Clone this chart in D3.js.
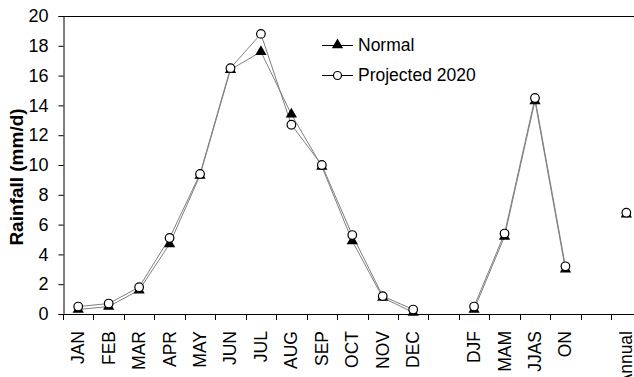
<!DOCTYPE html>
<html><head><meta charset="utf-8">
<script src="https://cdn.jsdelivr.net/npm/d3@7"></script>
<style>body{margin:0;background:#fff;overflow:hidden}svg{display:block}text{font-family:"Liberation Sans",Arial,sans-serif}</style>
</head><body>
<svg id="c" width="634" height="377"></svg>
<script>
const categories = ["JAN","FEB","MAR","APR","MAY","JUN","JUL","AUG","SEP","OCT","NOV","DEC","","DJF","MAM","JJAS","ON"," ","Annual"];
const normal =    [0.3,0.5,1.6,4.7,9.3,16.4,17.6,13.4,9.9,4.9,1.1,0.1,null,0.3,5.2,14.3,3.0,null,6.7];
const projected = [0.5,0.7,1.8,5.1,9.4,16.5,18.8,12.7,10.0,5.3,1.2,0.3,null,0.5,5.4,14.5,3.2,null,6.8];
const yTicks = [0,2,4,6,8,10,12,14,16,18,20];
const seriesNames = ["Normal","Projected 2020"];

const svg = d3.select("#c");
const mLeft = 63, mTop = 16, mBottom = 314, step = 30.45;
const x = d3.scaleBand().domain(categories).range([mLeft, mLeft + step*categories.length]).padding(0);
const y = d3.scaleLinear().domain([0,20]).range([mBottom, mTop]);

// frame: top line
svg.append("line").attr("x1",mLeft).attr("x2",700).attr("y1",mTop+0.5).attr("y2",mTop+0.5).attr("stroke","#000").attr("stroke-width",1);

// y axis
const ya = svg.append("g").attr("transform",`translate(${mLeft+0.5},0)`)
  .call(d3.axisLeft(y).tickValues(yTicks).tickSize(5).tickPadding(10));
ya.select(".domain").attr("stroke","#000");
ya.selectAll("text").style("font-size","18px").attr("fill","#000");

// x axis line
svg.append("line").attr("x1",mLeft).attr("x2",700).attr("y1",mBottom+0.5).attr("y2",mBottom+0.5).attr("stroke","#000");
// x ticks at band boundaries
const bounds = categories.map(c => x(c)).concat([x(categories[categories.length-1]) + x.bandwidth()]);
svg.append("g").selectAll("line").data(bounds).join("line")
  .attr("x1",d=>Math.round(d)+0.5).attr("x2",d=>Math.round(d)+0.5)
  .attr("y1",mBottom).attr("y2",mBottom+6).attr("stroke","#000");
// x labels
svg.append("g").selectAll("text").data(categories).join("text")
  .attr("transform",d=>`translate(${x(d)+x.bandwidth()/2},331) rotate(-90)`)
  .attr("text-anchor","end").attr("dominant-baseline","central")
  .style("font-size","17.5px").text(d=>d);

// y label
svg.append("text").attr("transform",`translate(16,177) rotate(-90)`)
  .attr("text-anchor","middle").attr("dominant-baseline","central")
  .style("font-size","19px").style("font-weight","bold").text("Rainfall (mm/d)");

const cx = (d,i) => x(categories[i]) + x.bandwidth()/2;
const line = d3.line().defined(d=>d!=null).x(cx).y(d=>y(d));

[normal, projected].forEach(s=>{
  svg.append("path").datum(s).attr("d",line).attr("fill","none").attr("stroke","#808080").attr("stroke-width",1);
});

const tri = d3.symbol().type(d3.symbolTriangle).size(55);
svg.append("g").selectAll("path").data(normal.map((v,i)=>({v,i})).filter(d=>d.v!=null)).join("path")
  .attr("d",tri).attr("transform",d=>`translate(${cx(d.v,d.i)},${y(d.v)})`).attr("fill","#000");
svg.append("g").selectAll("circle").data(projected.map((v,i)=>({v,i})).filter(d=>d.v!=null)).join("circle")
  .attr("cx",d=>cx(d.v,d.i)).attr("cy",d=>y(d.v)).attr("r",4.3)
  .attr("fill","#fff").attr("stroke","#000").attr("stroke-width",1.2);

// legend
const lg = svg.append("g");
[0,1].forEach(k=>{
  const ly = k===0 ? 45 : 75;
  lg.append("line").attr("x1",322).attr("x2",353).attr("y1",ly+0.5).attr("y2",ly+0.5).attr("stroke","#000");
  if(k===0) lg.append("path").attr("d",tri).attr("transform",`translate(337.5,${ly})`).attr("fill","#000");
  else lg.append("circle").attr("cx",337.5).attr("cy",ly+0.5).attr("r",4).attr("fill","#fff").attr("stroke","#000").attr("stroke-width",1.2);
  lg.append("text").attr("x",358).attr("y",ly).attr("dominant-baseline","central").style("font-size","17.5px").text(seriesNames[k]);
});
</script>
</body></html>
